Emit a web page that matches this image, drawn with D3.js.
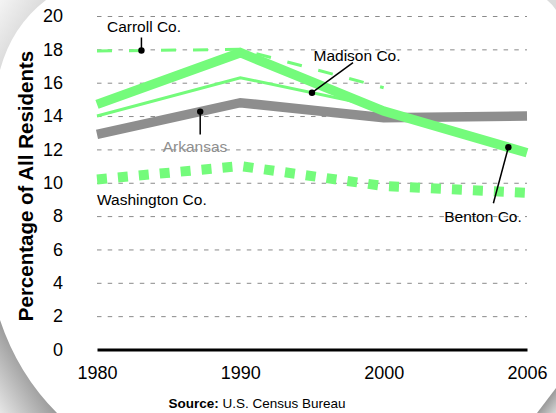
<!DOCTYPE html>
<html>
<head>
<meta charset="utf-8">
<script src="https://cdn.jsdelivr.net/npm/d3@7"></script>
<style>
  body { margin: 0; background: #fff; }
  svg { display: block; font-family: "Liberation Sans", Arial, Helvetica, sans-serif; }
</style>
</head>
<body>
<svg id="chart" width="556" height="413"></svg>
<script>
// data
const years = ["1980", "1990", "2000", "2006"];
const arkansas = [12.9, 14.8, 13.9, 14.0];
const benton = [14.7, 17.8, 14.3, 11.8];
const madison = [14.0, 16.3, 14.5];
const carroll = [17.9, 18.0, 15.7];
const washington = [10.2, 11.0, 9.8, 9.4];
const yTicks = [0, 2, 4, 6, 8, 10, 12, 14, 16, 18, 20];

const green = "#74fb7b";
const grey = "#8e8e8e";

const svg = d3.select("#chart");

// paper corners / shadows
const defs = svg.append("defs");
const grad = (id, x1, y1, x2, y2, stops) => {
    const g = defs.append("linearGradient").attr("id", id)
        .attr("x1", x1).attr("y1", y1).attr("x2", x2).attr("y2", y2);
    stops.forEach(s => g.append("stop").attr("offset", s[0]).attr("stop-color", s[1]));
};
grad("gTL", 0, 0, 1, 1, [[0, "#f4f4f4"], [0.6, "#d6d6d6"], [1, "#9a9a9a"]]);
grad("gBL", 1, 0, 0, 1, [[0, "#3a3a3a"], [0.5, "#9a9a9a"], [1, "#e6e6e6"]]);
grad("gBR", 0, 0, 1, 1, [[0, "#5a5a5a"], [1, "#d8d8d8"]]);

svg.append("path").attr("d", "M0,0 L46,0 Q12,26 0,70 Z").attr("fill", "url(#gTL)");
svg.append("path").attr("d", "M0,320 Q18,374 57,413 L0,413 Z").attr("fill", "url(#gBL)");
svg.append("path").attr("d", "M537,413 L556,388 L556,413 Z").attr("fill", "url(#gBR)");
svg.append("path").attr("d", "M547,0 Q552,4 556,10 L556,0 Z").attr("fill", "#dcdcdc");

const x = d3.scalePoint().domain(years).range([97, 527]);
const y = d3.scaleLinear().domain([0, 20]).range([349.5, 16]);

// grid
svg.append("g")
    .attr("transform", "translate(97,0)")
    .call(d3.axisLeft(y).tickValues(yTicks.filter(d => d > 0)).tickSize(-430).tickFormat(""))
    .call(g => g.select(".domain").remove())
    .call(g => g.selectAll("line").attr("stroke", "#8a8a8a").attr("stroke-width", 1).attr("stroke-dasharray", "4.5,6.2"));

// y tick labels
svg.append("g")
    .attr("transform", "translate(97,0)")
    .call(d3.axisLeft(y).tickValues(yTicks).tickSize(0).tickPadding(34))
    .call(g => g.select(".domain").remove())
    .call(g => g.selectAll("text").attr("font-size", 18).attr("font-family", "Liberation Sans, Arial, sans-serif").attr("fill", "#000"));

// x axis
svg.append("g")
    .attr("transform", `translate(0,${y(0)})`)
    .call(d3.axisBottom(x).tickSize(0).tickSizeOuter(0).tickPadding(17))
    .call(g => g.select(".domain").attr("stroke", "#000").attr("stroke-width", 3))
    .call(g => g.selectAll("text").attr("font-size", 18).attr("font-family", "Liberation Sans, Arial, sans-serif").attr("fill", "#000"));

// axis title
svg.append("text")
    .attr("transform", "translate(33,186) rotate(-90)")
    .attr("text-anchor", "middle")
    .attr("font-size", 20.5)
    .attr("font-weight", "bold")
    .text("Percentage of All Residents");

const line = d3.line()
    .x((d, i) => x(years[i]))
    .y(d => y(d));

const series = [
    { data: arkansas, color: grey, width: 9.5, dash: null },
    { data: washington, color: green, width: 10, dash: "10,11" },
    { data: carroll, color: green, width: 3, dash: "15,17" },
    { data: madison, color: green, width: 3, dash: null },
    { data: benton, color: green, width: 9.5, dash: null }
];

svg.selectAll(".series")
    .data(series)
    .enter()
    .append("path")
    .attr("class", "series")
    .attr("fill", "none")
    .attr("stroke", d => d.color)
    .attr("stroke-width", d => d.width)
    .attr("stroke-dasharray", d => d.dash)
    .attr("stroke-linejoin", "miter")
    .attr("d", d => line(d.data));

// point on a series between year i and i+1 at fraction t
const along = (data, i, t) => {
    const x0 = x(years[i]), x1 = x(years[i + 1]);
    return [x0 + (x1 - x0) * t, y(data[i] + (data[i + 1] - data[i]) * t)];
};

const notes = [
    { name: "Carroll Co.", at: along(carroll, 0, 0.31), text: [144, 32], end: [0, -13], anchor: "middle", color: "#000" },
    { name: "Madison Co.", at: along(madison, 1, 0.5), text: [357, 61], end: [41, -30], anchor: "middle", color: "#000" },
    { name: "Arkansas", at: along(arkansas, 0, 0.72), text: [195, 152], end: [0, 23], anchor: "middle", color: grey },
    { name: "Benton Co.", at: along(benton, 2, 0.87), text: [483, 222], end: [-15, 56], anchor: "middle", color: "#000" }
];

const ann = svg.append("g");
notes.forEach(n => {
    ann.append("line")
        .attr("x1", n.at[0]).attr("y1", n.at[1])
        .attr("x2", n.at[0] + n.end[0]).attr("y2", n.at[1] + n.end[1])
        .attr("stroke", "#000").attr("stroke-width", 1.5);
    ann.append("circle")
        .attr("cx", n.at[0]).attr("cy", n.at[1]).attr("r", 3.2)
        .attr("fill", "#000");
    ann.append("text")
        .attr("x", n.text[0]).attr("y", n.text[1])
        .attr("text-anchor", n.anchor)
        .attr("font-size", 15.5)
        .attr("fill", n.color)
        .text(n.name);
});

ann.append("text")
    .attr("x", x("1980")).attr("y", 205)
    .attr("font-size", 15.5)
    .text("Washington Co.");

// source
const src = svg.append("text")
    .attr("x", 257).attr("y", 408)
    .attr("text-anchor", "middle")
    .attr("font-size", 13.5);
src.append("tspan").attr("font-weight", "bold").text("Source:");
src.append("tspan").text(" U.S. Census Bureau");
</script>
</body>
</html>
